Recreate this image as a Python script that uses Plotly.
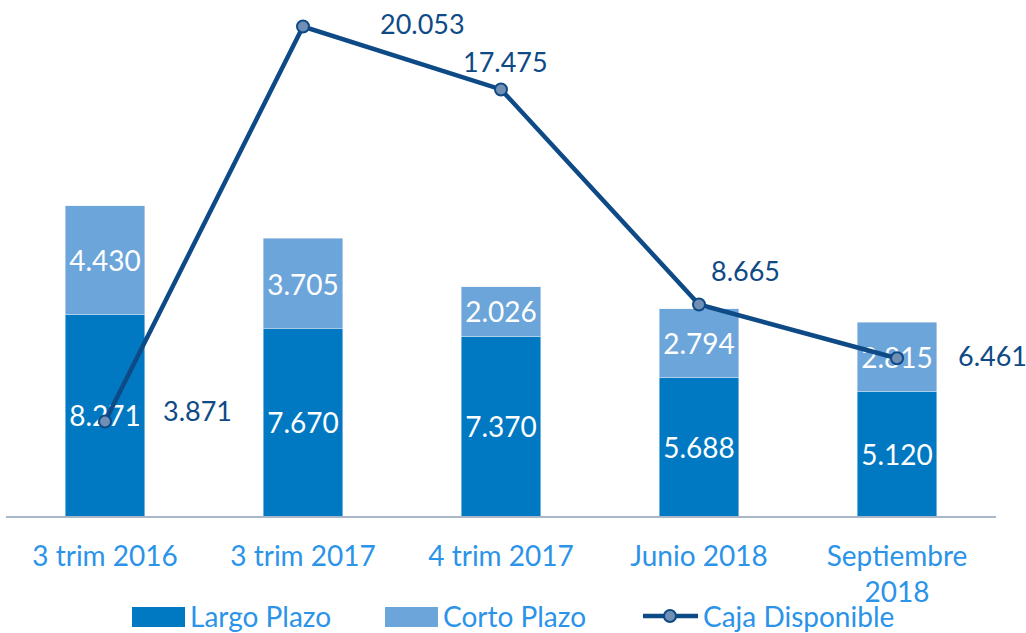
import plotly.graph_objects as go

categories = ["3 trim 2016", "3 trim 2017", "4 trim 2017", "Junio 2018", "Septiembre<br>2018"]
largo_plazo = [8271, 7670, 7370, 5688, 5120]
corto_plazo = [4430, 3705, 2026, 2794, 2815]
caja_disponible = [3871, 20053, 17475, 8665, 6461]
series_names = ["Largo Plazo", "Corto Plazo", "Caja Disponible"]

def fmt(v):
    return f"{v:,}".replace(",", ".")

FONT = "Lato, 'Open Sans', sans-serif"
C_LARGO = "#0179C2"
C_CORTO = "#6CA5DA"
C_LINE = "#0E4A85"
C_TXT = "#2B93E8"
FS = 28

W, H = 1026, 633
ML, MR, MT, MB = 6, 30, 5, 117
PW, PH = W - ML - MR, H - MT - MB

def px(x):
    return (x - ML) / PW

def py(y):
    return (H - MB - y) / PH

fig = go.Figure()
fig.add_trace(go.Bar(
    x=categories, y=largo_plazo, name=series_names[0], marker_color=C_LARGO,
    text=[fmt(v) for v in largo_plazo], textposition="inside", insidetextanchor="middle",
    textfont=dict(color="white", size=FS, family=FONT), textangle=0,
))
fig.add_trace(go.Bar(
    x=categories, y=corto_plazo, name=series_names[1], marker_color=C_CORTO,
    text=[fmt(v) for v in corto_plazo], textposition="inside", insidetextanchor="middle",
    textfont=dict(color="white", size=FS, family=FONT), textangle=0,
))
fig.add_trace(go.Scatter(
    x=categories, y=caja_disponible, name=series_names[2], mode="lines+markers",
    line=dict(color=C_LINE, width=4.5),
    marker=dict(symbol="circle", size=12, color="#6F8FB5", line=dict(color=C_LINE, width=2)),
))

shifts = [(92, 11), (119, 3), (4, 28), (46, 34), (95, 3)]
for c, v, (dx, dy) in zip(categories, caja_disponible, shifts):
    fig.add_annotation(x=c, y=v, text=fmt(v), showarrow=False, xshift=dx, yshift=dy,
                       font=dict(color=C_LINE, size=27, family=FONT))

# custom legend (large swatches like the original)
ly = 616
shapes = [
    dict(type="rect", xref="paper", yref="paper", x0=px(132), x1=px(185), y0=py(627), y1=py(607),
         fillcolor=C_LARGO, line=dict(width=0)),
    dict(type="rect", xref="paper", yref="paper", x0=px(385), x1=px(438), y0=py(627), y1=py(607),
         fillcolor=C_CORTO, line=dict(width=0)),
    dict(type="line", xref="paper", yref="paper", x0=px(643), x1=px(698), y0=py(ly), y1=py(ly),
         line=dict(color=C_LINE, width=4.5)),
    dict(type="circle", xref="paper", yref="paper", x0=px(664), x1=px(676), y0=py(ly + 6), y1=py(ly - 6),
         fillcolor="#6F8FB5", line=dict(color=C_LINE, width=2)),
]
for name, x0 in zip(series_names, [188, 441, 701]):
    fig.add_annotation(xref="paper", yref="paper", x=px(x0), y=py(ly), text=name, showarrow=False,
                       xanchor="left", yanchor="middle", font=dict(color=C_TXT, size=FS, family=FONT))

fig.update_layout(
    width=W, height=H,
    margin=dict(l=ML, r=MR, t=MT, b=MB, autoexpand=False),
    barmode="stack", bargap=0.6,
    paper_bgcolor="white", plot_bgcolor="white",
    separators=",.",
    uniformtext=dict(minsize=22, mode="show"),
    font=dict(family=FONT, size=FS, color=C_TXT),
    showlegend=False,
    shapes=shapes,
    xaxis=dict(showline=True, linecolor="#A9B8C7", linewidth=2, ticks="", automargin=False,
               range=[-0.5, 4.5], ticklabelstandoff=14,
               tickfont=dict(size=FS, color=C_TXT, family=FONT), showgrid=False),
    yaxis=dict(range=[0, 20934], visible=False, showgrid=False, zeroline=False, automargin=False),
)

fig.write_html("out.html", config={"displayModeBar": False},
               post_script="document.body.style.margin='0px';")
